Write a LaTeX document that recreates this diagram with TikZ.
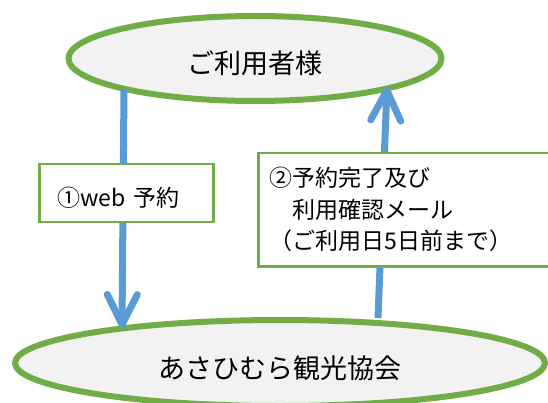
\documentclass[tikz,border=0pt]{standalone}
\usepackage{fontspec}
\newfontfamily\jpfont{Noto Sans CJK JP}
\usepackage{tikz}
\usetikzlibrary{positioning,arrows.meta,shapes.geometric,calc}
\definecolor{abGreen}{RGB}{112,173,71}
\definecolor{abBlue}{RGB}{91,155,213}
\definecolor{abFill}{RGB}{242,242,242}

\begin{document}
\begin{tikzpicture}[x=1pt,y=-1pt,
  party/.style={ellipse, draw=abGreen, fill=abFill, line width=6pt, inner sep=0pt,
    text height=31pt, text depth=0pt, font=\jpfont\fontsize{27}{30}\selectfont},
  msgbox/.style={draw=abGreen, line width=2.5pt, fill=white, inner ysep=0pt,
    align=left, font=\jpfont\fontsize{23}{31.5}\selectfont},
  flow/.style={abBlue, line width=7pt, -{Straight Barb[length=30pt,width=30pt,round]}}]
  \useasboundingbox (0,0) rectangle (548,403);

  % the two parties
  \node[party, minimum width=373pt, minimum height=85pt] (user) at (255,58.5) {ご利用者様};
  \node[party, minimum width=530pt, minimum height=86pt] (office) at (280,363) {あさひむら観光協会};

  % flows between them
  \draw[flow] ($(user.center)+(-131,30.5)$) -- ($(office.center)+(-158,-35)$);
  \draw[flow] ($(office.center)+(98,-45)$) -- ($(user.center)+(132,28.5)$);

  % labels on the flows
  \node[msgbox, minimum width=174pt, minimum height=58pt, inner xsep=18pt, text width=138pt,
    text height=27pt, text depth=0pt] (booking) at (126.5,193) {①web 予約};
  \node[msgbox, anchor=north west, minimum width=310pt, minimum height=113pt, inner xsep=11pt,
    text width=288pt] (mail) at (257,152)
    {②予約完了及び\\　利用確認メール\\（ご利用日5日前まで）};
\end{tikzpicture}
\end{document}
